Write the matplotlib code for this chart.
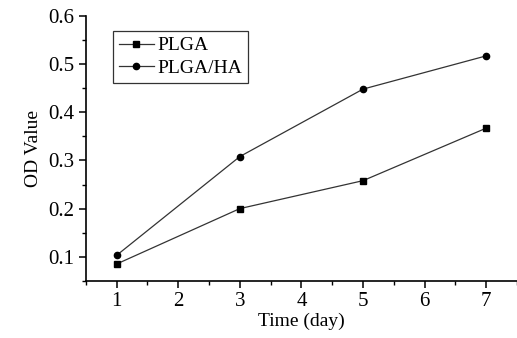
import matplotlib.pyplot as plt
from matplotlib.ticker import MultipleLocator

# dados
dias = [1, 3, 5, 7]
od_plga = [0.085, 0.200, 0.258, 0.367]
od_plga_ha = [0.103, 0.308, 0.448, 0.517]

plt.rcParams["font.family"] = ["Liberation Serif", "DejaVu Serif"]

fig = plt.figure(figsize=(5.17, 3.38), dpi=100)
ax = fig.add_axes([0.166, 0.169, 0.834, 0.784])

ax.plot(dias, od_plga, "-s", color="#333333", lw=0.9, ms=4,
        mfc="black", mec="black", label="PLGA")
ax.plot(dias, od_plga_ha, "-o", color="#333333", lw=0.9, ms=4.5,
        mfc="black", mec="black", label="PLGA/HA")

ax.set_xlim(0.5, 7.5)
ax.set_ylim(0.05, 0.6)
ax.xaxis.set_major_locator(MultipleLocator(1))
ax.xaxis.set_minor_locator(MultipleLocator(0.5))
ax.yaxis.set_major_locator(MultipleLocator(0.1))
ax.yaxis.set_minor_locator(MultipleLocator(0.05))
ax.set_yticks([0.1, 0.2, 0.3, 0.4, 0.5, 0.6])

for lado in ["top", "right"]:
    ax.spines[lado].set_visible(False)
ax.spines["left"].set_linewidth(1.2)
ax.spines["bottom"].set_linewidth(1.2)
ax.tick_params(which="major", direction="out", length=5, width=1.1,
               labelsize=15, pad=3)
ax.tick_params(which="minor", direction="out", length=3, width=1.0)

ax.set_xlabel("Time (day)", fontsize=14, labelpad=1)
ax.set_ylabel("OD Value", fontsize=14, labelpad=5)

leg = ax.legend(loc="upper left", bbox_to_anchor=(0.063, 0.943), fontsize=14,
                frameon=True, fancybox=False, edgecolor="black",
                borderaxespad=0, handlelength=1.8, handletextpad=0.2,
                borderpad=0.3, labelspacing=0.25)
leg.get_frame().set_linewidth(0.9)

fig.savefig("out.png", dpi=100)
